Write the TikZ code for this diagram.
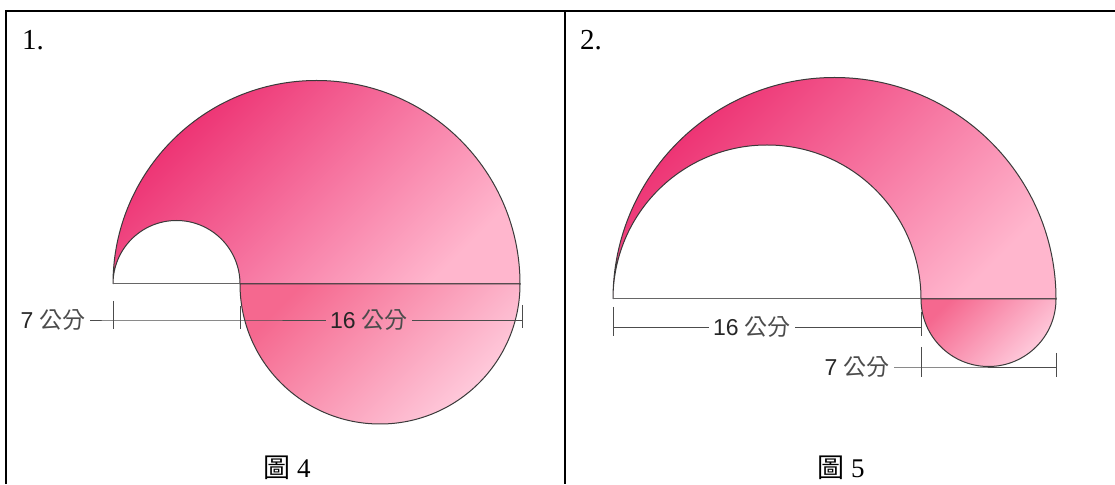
\documentclass[tikz,border=0pt]{standalone}
\usepackage{fontspec}
\setmainfont{Liberation Serif}
\newfontfamily\cjk{Noto Sans CJK TC}
\newfontfamily\dimsans{Liberation Sans}
\usetikzlibrary{positioning, calc}
\definecolor{pinkdark}{HTML}{EC2B6E}
\definecolor{pinkmid}{HTML}{F15283}
\definecolor{pinklight}{HTML}{FFB6CD}
\definecolor{pinklow}{HTML}{F5688F}
\definecolor{pinkpale}{HTML}{FFD0E0}
\definecolor{edgegray}{HTML}{3A3A3A}
\tikzset{
  fg frame/.style={
    draw=black, line width=2.5pt
  },
  fg shape/.style={
    draw=edgegray, line width=1pt,
    left color=pinkdark, middle color=pinkmid, right color=pinklight,
    shading angle=45
  },
  fg lower/.style={
    draw=edgegray, line width=1pt,
    left color=pinklow, right color=pinkpale,
    shading angle=45
  },
  fg base/.style={
    draw=black!60, line width=1pt
  },
  fg dimline/.style={
    draw=black!70, line width=0.9pt
  },
  fg dim/.style={
    font=\dimsans\fontsize{23}{23}\selectfont, text=black!85,
    inner sep=4pt
  },
  fg num/.style={
    font=\fontsize{29}{29}\selectfont, inner sep=0pt
  },
  fg caption/.style={
    font=\fontsize{27}{27}\selectfont, inner sep=0pt
  }
}

\begin{document}
\begin{tikzpicture}[x=1pt, y=1pt]
  \useasboundingbox (0,0) rectangle (1115,484);
  % frame
  \draw [fg frame] (6,0) -- (6,473) -- (1115,473);
  \draw [fg frame] (565,473) -- (565,0);
  \node (t1) [fg num, anchor=base west] at (22,434) {1.};
  \node (t2) [fg num, anchor=base west] at (580,434) {2.};

  % Figure 4
  \coordinate (a1) at (113,200);
  \coordinate (a2) at (240,200);
  \coordinate (a3) at (520,200);
  \draw [fg shape] (a1) arc[start angle=180, end angle=0, radius=203.5]
    -- (a2) arc[start angle=0, end angle=180, radius=63.5] -- cycle;
  \draw [fg lower] (a2) arc[start angle=180, end angle=360, radius=140] -- cycle;
  \draw [fg base] (a1) -- (a2);
  % dimensions of figure 4
  \coordinate (k1) at (113,164);
  \coordinate (k2) at (240,164);
  \coordinate (k3) at (522,164);
  \node (d7a) [fg dim, anchor=east] at (90,164) {7 {\cjk\color{black!70}公分}};
  \node (d16a) [fg dim] at (369,164) {16 {\cjk\color{black!70}公分}};
  \draw [fg dimline] (d7a) -- (k1) -- (k2) -- (d16a);
  \draw [fg dimline] (d16a) -- (k3);
  \draw [fg dimline] ($(k1)+(0,19)$) -- ($(k1)+(0,-9)$);
  \draw [fg dimline] ($(k2)+(0,14)$) -- ($(k2)+(0,-9)$);
  \draw [fg dimline] ($(k3)+(0,15)$) -- ($(k3)+(0,-8)$);
  \node (cap4) [fg caption, anchor=base] at (287,6) {{\cjk 圖} 4};

  % Figure 5
  \coordinate (b1) at (613,185);
  \coordinate (b2) at (921,185);
  \coordinate (b3) at (1056,185);
  \draw [fg shape] (b1) arc[start angle=180, end angle=0, radius=221.5]
    -- (b2) arc[start angle=0, end angle=180, radius=154] -- cycle;
  \draw [fg lower] (b2) arc[start angle=180, end angle=360, radius=67.5] -- cycle;
  \draw [fg base] (b1) -- (b2);
  % dimensions of figure 5
  \coordinate (m1) at (613,157);
  \coordinate (m2) at (921,157);
  \coordinate (n1) at (921,117);
  \coordinate (n2) at (1056,117);
  \node (d16b) [fg dim] at (752,157) {16 {\cjk\color{black!70}公分}};
  \node (d7b) [fg dim, anchor=east] at (894,117) {7 {\cjk\color{black!70}公分}};
  \draw [fg dimline] (m1) -- (d16b) -- (m2);
  \draw [fg dimline] (d7b) -- (n1) -- (n2);
  \draw [fg dimline] ($(m1)+(0,20)$) -- ($(m1)+(0,-9)$);
  \draw [fg dimline] ($(m2)+(0,15)$) -- ($(m2)+(0,-9)$);
  \draw [fg dimline] ($(n1)+(0,20)$) -- ($(n1)+(0,-10)$);
  \draw [fg dimline] ($(n2)+(0,14)$) -- ($(n2)+(0,-10)$);
  \node (cap5) [fg caption, anchor=base] at (841,6) {{\cjk 圖} 5};
\end{tikzpicture}
\end{document}
